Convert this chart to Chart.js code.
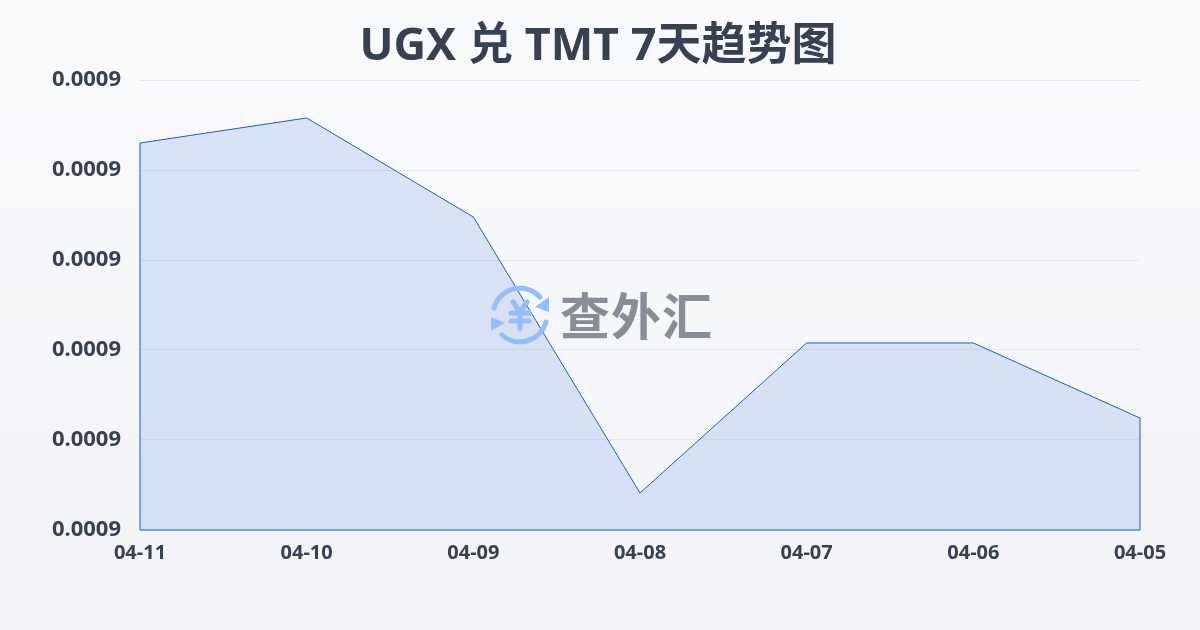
<!DOCTYPE html>
<html>
<head>
<meta charset="utf-8">
<script src="https://cdn.jsdelivr.net/npm/chart.js@4/dist/chart.umd.min.js"></script>
<style>
  html, body { margin: 0; padding: 0; }
  #wrap {
    position: relative; width: 1200px; height: 630px; overflow: hidden;
    background: linear-gradient(180deg, #f9fafc 0%, #f3f4f7 100%);
  }
  canvas { position: absolute; left: 0; top: 0; }
  #mark { position: absolute; left: 489px; top: 285px; }
  #markText {
    position: absolute; left: 560px; top: 278px;
    font: 700 50px/70px "Noto Sans CJK SC", sans-serif; color: #888d96;
    letter-spacing: 1px;
  }
</style>
</head>
<body>
<div id="wrap">
  <canvas id="rateChart" width="1200" height="630"></canvas>
  <svg id="mark" width="62" height="60" viewBox="0 0 62 60" fill="none" stroke="#94bdfb" stroke-width="5" stroke-linecap="round">
    <path d="M5 23 A 27 27 0 0 1 51 12"/>
    <path d="M57 37 A 27 27 0 0 1 13 50"/>
    <path d="M60 12 L60 27 L46 22 Z" fill="#94bdfb" stroke="none"/>
    <path d="M2 32 L2 46 L16 38 Z" fill="#94bdfb" stroke="none"/>
    <path d="M24 17 L31 27 L38 17 M31 27 L31 44 M22 28 L40 28 M22 36 L40 36"/>
  </svg>
  <div id="markText">查外汇</div>
</div>
<script>
/* ============= Data: ============= */
var dates = ['04-11', '04-10', '04-09', '04-08', '04-07', '04-06', '04-05'];
var rates = [0.000903, 0.00090578, 0.00089478, 0.00086411, 0.00088078, 0.00088078, 0.00087244];
var axisMin = 0.00086;
var axisMax = 0.00091;
var axisStep = 0.00001;

var fontFamily = '"Noto Sans", "Noto Sans CJK SC", sans-serif';

// closes the outline of the filled area down the sides and along the bottom
var areaOutline = {
  id: 'areaOutline',
  beforeDatasetsDraw: function (chart) {
    var pts = chart.getDatasetMeta(0).data;
    var ctx = chart.ctx;
    var bottom = chart.chartArea.bottom;
    ctx.save();
    ctx.strokeStyle = '#1d5bc8';
    ctx.lineWidth = 1;
    ctx.beginPath();
    ctx.moveTo(pts[0].x, pts[0].y);
    ctx.lineTo(pts[0].x, bottom);
    ctx.lineTo(pts[pts.length - 1].x, bottom);
    ctx.lineTo(pts[pts.length - 1].x, pts[pts.length - 1].y);
    ctx.stroke();
    ctx.restore();
  }
};

// title sits on the page centre, not the centre of the padded box
var titleCentre = {
  id: 'titleCentre',
  afterLayout: function (chart) {
    chart.titleBlock.left += 6;
  }
};

var ctx = document.getElementById('rateChart').getContext('2d');
var rateChart = new Chart(ctx, {
  type: 'line',
  data: {
    labels: dates,
    datasets: [{
      data: rates,
      borderColor: '#1d5bc8',
      borderWidth: 1,
      backgroundColor: 'rgba(37, 99, 220, 0.14)',
      fill: 'start',
      tension: 0,
      pointRadius: 0
    }]
  },
  options: {
    responsive: false,
    animation: false,
    layout: { padding: { left: 50, right: 60, top: 20, bottom: 0 } },
    plugins: {
      legend: { display: false },
      tooltip: { enabled: false },
      title: {
        display: true,
        text: 'UGX 兑 TMT 7天趋势图',
        color: '#374151',
        font: { family: fontFamily, size: 45, weight: '700' },
        padding: { top: 0, bottom: 6 }
      }
    },
    scales: {
      x: {
        offset: false,
        afterFit: function (scale) { scale.height = 100; },
        grid: { display: false },
        border: { display: false },
        ticks: {
          color: '#374151',
          maxRotation: 0,
          autoSkip: false,
          padding: 3,
          font: { family: fontFamily, size: 20, weight: '700' }
        }
      },
      y: {
        min: axisMin,
        max: axisMax,
        afterFit: function (scale) { scale.width = 90; },
        grid: { color: '#e5e7eb', lineWidth: 1, drawTicks: false },
        border: { display: false },
        ticks: {
          stepSize: axisStep,
          color: '#374151',
          padding: 19,
          font: { family: fontFamily, size: 22, weight: '700' },
          callback: function (value) { return value.toFixed(4); }
        }
      }
    }
  },
  plugins: [areaOutline, titleCentre]
});
</script>
</body>
</html>
